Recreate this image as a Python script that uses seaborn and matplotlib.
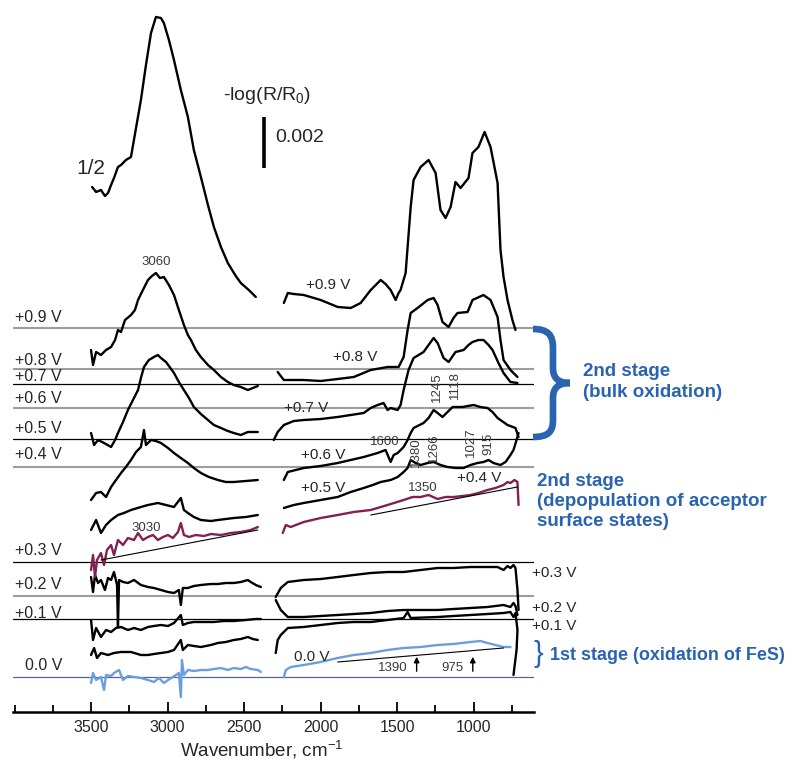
import matplotlib
matplotlib.use("Agg")
import matplotlib.pyplot as plt
import matplotlib.transforms as mtransforms
import seaborn as sns
from matplotlib.path import Path
from matplotlib.patches import PathPatch
from matplotlib.ticker import MultipleLocator

# unidades verticais de exibição: 51 unidades = 0.002 de -log(R/R0)
voltage_labels = ['+0.9 V', '+0.8 V', '+0.7 V', '+0.6 V', '+0.5 V',
                  '+0.4 V', '+0.3 V', '+0.2 V', '+0.1 V', '0.0 V']
baseline_levels = [384, 343, 328, 304, 273, 245, 150, 116, 93, 35]
baseline_colors = ['#9c9ca4', '#9c9ca4', 'black', '#9c9ca4', 'black',
                   '#9c9ca4', 'black', '#9c9ca4', 'black', '#56639c']
scale_bar = 51

# espectro superior (+0.9 V, escala 1/2)
top_left_wn = [3493, 3467, 3435, 3409, 3389, 3369, 3350, 3324, 3304, 3272, 3239, 3206, 3174, 3141, 3108, 3076,
               3043, 3024, 2991, 2958, 2913, 2867, 2828, 2782, 2736, 2697, 2651, 2606, 2554, 2521, 2469, 2423]
top_left_y = [525, 520, 522, 516, 519, 527, 534, 545, 547, 552, 555, 584, 612, 647, 679, 695,
              694, 689, 672, 652, 622, 595, 562, 535, 507, 485, 465, 449, 436, 429, 422, 415]
top_right_wn = [2240, 2214, 2175, 2110, 1999, 1888, 1803, 1738, 1672, 1607, 1575, 1542, 1509, 1490, 1477, 1444,
                1411, 1392, 1346, 1294, 1248, 1216, 1183, 1150, 1118, 1085, 1033, 1007, 968, 928, 889, 843,
                824, 804, 778, 746, 726]
top_right_y = [409, 419, 418, 417, 412, 405, 404, 409, 422, 432, 428, 422, 412, 419, 422, 439,
               505, 532, 545, 552, 539, 502, 494, 505, 530, 524, 534, 559, 565, 580, 565, 529,
               462, 435, 412, 392, 382]

# +0.9 V / +0.8 V
s2_left_wn = [3500, 3487, 3467, 3435, 3402, 3369, 3343, 3324, 3304, 3278, 3239, 3213, 3193, 3161, 3128, 3102,
              3076, 3050, 3024, 2991, 2958, 2926, 2893, 2867, 2847, 2815, 2782, 2736, 2697, 2651, 2606, 2567,
              2521, 2475, 2410]
s2_left_y = [362, 347, 360, 357, 362, 365, 372, 382, 380, 392, 397, 402, 412, 422, 432, 436,
             439, 434, 435, 427, 417, 402, 387, 377, 372, 362, 355, 347, 342, 335, 330, 327,
             325, 322, 326]
s2_right_wn = [2280, 2240, 2110, 1999, 1888, 1783, 1672, 1562, 1490, 1457, 1431, 1411, 1366, 1300, 1261, 1235,
               1203, 1163, 1131, 1105, 1039, 1007, 935, 889, 843, 824, 804, 759, 713]
s2_right_y = [340, 332, 332, 331, 333, 335, 342, 345, 345, 355, 382, 399, 404, 412, 414, 407,
              390, 385, 394, 399, 400, 412, 417, 412, 395, 372, 352, 342, 335]

# +0.8 V / +0.7 V
s3_left_wn = [3500, 3480, 3454, 3415, 3369, 3343, 3324, 3291, 3259, 3226, 3193, 3174, 3154, 3122, 3089, 3063,
              3043, 3010, 2958, 2926, 2893, 2860, 2828, 2782, 2736, 2697, 2651, 2606, 2567, 2521, 2475, 2410]
s3_left_y = [279, 267, 272, 269, 265, 272, 279, 290, 302, 312, 322, 334, 345, 352, 355, 357,
             354, 350, 339, 330, 322, 314, 305, 298, 292, 287, 284, 281, 279, 277, 280, 280]
s3_right_wn = [2306, 2280, 2240, 2175, 2110, 1999, 1888, 1803, 1718, 1672, 1627, 1588, 1562, 1542, 1496, 1477,
               1457, 1425, 1392, 1359, 1327, 1294, 1261, 1235, 1196, 1163, 1118, 1065, 1033, 1007, 968, 935,
               902, 876, 837, 804, 759, 713]
s3_right_y = [272, 280, 287, 291, 292, 293, 295, 297, 299, 304, 307, 309, 302, 304, 302, 307,
              322, 342, 354, 357, 360, 367, 374, 369, 354, 350, 360, 362, 367, 370, 372, 372,
              367, 362, 349, 339, 330, 329]

# +0.7 V / +0.6 V
s4_left_wn = [3500, 3467, 3435, 3402, 3369, 3337, 3304, 3272, 3239, 3206, 3174, 3154, 3141, 3108, 3076, 3043,
              2997, 2958, 2913, 2867, 2828, 2782, 2730, 2671, 2619, 2567, 2488, 2410]
s4_left_y = [212, 219, 220, 215, 225, 232, 239, 245, 252, 260, 265, 282, 267, 272, 271, 269,
             264, 259, 254, 249, 244, 239, 235, 232, 230, 230, 231, 232]
s4_right_wn = [2240, 2214, 2110, 1999, 1888, 1803, 1718, 1627, 1575, 1542, 1522, 1496, 1457, 1431, 1411, 1392,
               1327, 1294, 1261, 1235, 1203, 1170, 1137, 1072, 1000, 955, 909, 876, 843, 778, 726, 706]
s4_right_y = [232, 240, 244, 246, 249, 252, 255, 259, 262, 250, 257, 259, 265, 272, 279, 284,
              289, 294, 302, 299, 295, 300, 305, 305, 307, 305, 304, 300, 294, 287, 284, 275]

# +0.6 V / +0.5 V
s5_left_wn = [3500, 3467, 3435, 3402, 3369, 3324, 3285, 3239, 3174, 3128, 3063, 3010, 2958, 2913, 2893, 2867,
              2828, 2782, 2717, 2671, 2619, 2567, 2488, 2410]
s5_left_y = [182, 192, 179, 187, 192, 197, 199, 202, 205, 207, 209, 207, 205, 214, 202, 199,
             195, 192, 191, 192, 193, 194, 195, 197]
s5_right_wn = [2240, 2175, 2110, 1999, 1888, 1803, 1718, 1659, 1607, 1542, 1496, 1457, 1431, 1411, 1379, 1346,
               1300, 1261, 1216, 1170, 1118, 1065, 1020, 974, 935, 902, 870, 824, 791, 759, 739, 719, 706]
s5_right_y = [204, 207, 209, 212, 215, 220, 224, 227, 230, 232, 235, 240, 244, 252, 249, 247,
              249, 250, 247, 245, 244, 244, 247, 249, 250, 252, 249, 247, 250, 257, 262, 272, 279]

# +0.4 V (estados aceitadores de superfície)
s6_left_wn = [3500, 3487, 3474, 3461, 3435, 3415, 3396, 3369, 3350, 3324, 3291, 3259, 3219, 3193, 3161, 3128,
              3095, 3063, 3030, 2997, 2965, 2932, 2913, 2893, 2860, 2815, 2762, 2717, 2651, 2586, 2521, 2456, 2410]
s6_left_y = [142, 157, 135, 152, 159, 147, 162, 167, 157, 172, 167, 174, 172, 179, 172, 175,
             177, 172, 175, 177, 174, 180, 189, 177, 175, 177, 176, 178, 177, 179, 180, 182, 185]
s6_right_wn = [2247, 2227, 2195, 2110, 1999, 1888, 1783, 1672, 1562, 1457, 1398, 1346, 1294, 1235, 1183, 1131,
               1072, 1020, 968, 909, 857, 804, 778, 759, 733, 713, 706]
s6_right_y = [179, 187, 185, 190, 194, 197, 200, 202, 207, 212, 215, 215, 217, 213, 215, 215,
              216, 217, 219, 222, 224, 227, 230, 229, 232, 230, 207]
s6_fit_left_wn, s6_fit_left_y = [3435, 2410], [152, 182]
s6_fit_right_wn, s6_fit_right_y = [1672, 713], [197, 225]

# +0.3 V / +0.2 V
s7_left_wn = [3500, 3487, 3474, 3454, 3435, 3409, 3389, 3369, 3350, 3330, 3324, 3317, 3291, 3259, 3219, 3174,
              3128, 3089, 3043, 2997, 2958, 2926, 2913, 2900, 2867, 2828, 2782, 2717, 2671, 2619, 2567, 2521,
              2475, 2456, 2423, 2390]
s7_left_y = [135, 120, 137, 129, 132, 122, 134, 132, 140, 127, 85, 132, 130, 129, 132, 127,
             125, 124, 122, 120, 119, 122, 107, 124, 124, 126, 127, 128, 128, 129, 129, 130,
             132, 130, 127, 125]
s7_right_wn = [2293, 2260, 2214, 2110, 1999, 1888, 1783, 1672, 1562, 1457, 1346, 1235, 1131, 1020, 909, 843,
               804, 778, 759, 739, 726, 713, 706]
s7_right_y = [115, 124, 130, 132, 133, 135, 137, 139, 140, 140, 142, 144, 144, 145, 145, 145,
              142, 146, 144, 147, 144, 122, 102]

# +0.2 V / +0.1 V
s8_left_wn = [3500, 3487, 3467, 3435, 3402, 3369, 3337, 3304, 3259, 3219, 3174, 3128, 3089, 3043, 2997, 2958,
              2913, 2900, 2867, 2828, 2762, 2697, 2632, 2567, 2488, 2423, 2390]
s8_left_y = [92, 72, 84, 75, 82, 80, 84, 85, 82, 84, 82, 85, 86, 87, 86, 89,
             97, 87, 89, 90, 90, 90, 91, 91, 92, 93, 93]
s8_right_wn = [2293, 2260, 2214, 2110, 1999, 1888, 1783, 1672, 1562, 1457, 1346, 1235, 1131, 1020, 909, 804,
               759, 739, 726, 713]
s8_right_y = [112, 102, 95, 95, 96, 97, 98, 99, 101, 102, 102, 102, 103, 104, 105, 107,
              105, 109, 106, 97]

# +0.1 V
s9_left_wn = [3500, 3480, 3461, 3435, 3389, 3350, 3304, 3239, 3174, 3128, 3089, 3043, 2997, 2958, 2913, 2900,
              2867, 2828, 2782, 2717, 2671, 2619, 2567, 2521, 2475, 2443, 2410]
s9_left_y = [57, 64, 54, 59, 57, 59, 60, 60, 57, 57, 58, 59, 60, 62, 72, 62,
             67, 66, 65, 67, 69, 70, 72, 73, 75, 73, 72]
s9_right_wn = [2293, 2280, 2260, 2214, 2110, 1999, 1888, 1783, 1672, 1562, 1457, 1431, 1411, 1235, 1131, 1020,
               909, 804, 759, 739, 726, 713, 719, 739]
s9_right_y = [59, 72, 77, 84, 85, 87, 89, 90, 90, 92, 94, 100, 94, 95, 96, 97,
              98, 99, 100, 95, 99, 82, 62, 37]

# 0.0 V (FeS)
s10_left_wn = [3500, 3487, 3467, 3435, 3415, 3402, 3369, 3350, 3317, 3291, 3259, 3219, 3174, 3128, 3089, 3056,
               3024, 2997, 2965, 2926, 2913, 2906, 2893, 2867, 2828, 2782, 2736, 2697, 2651, 2606, 2567, 2521,
               2488, 2456, 2410, 2390]
s10_left_y = [29, 39, 32, 35, 22, 37, 36, 39, 42, 32, 36, 35, 34, 32, 30, 34,
              29, 32, 35, 39, 15, 52, 37, 42, 41, 42, 42, 43, 44, 42, 44, 43,
              45, 43, 42, 40]
s10_right_wn = [2240, 2227, 2195, 2110, 1999, 1888, 1783, 1672, 1562, 1457, 1346, 1235, 1131, 1020, 955, 909,
                857, 804, 759]
s10_right_y = [35, 42, 45, 47, 50, 54, 57, 59, 62, 64, 65, 67, 68, 70, 71, 69,
               67, 65, 65]
s10_fit_wn, s10_fit_y = [1888, 804], [50, 64]

BLUE = '#2a64b0'
MAROON = '#822052'
LIGHTBLUE = '#6a9fdc'

sns.set_style("white")
plt.rcParams['font.family'] = ['Liberation Sans', 'DejaVu Sans']
plt.rcParams['mathtext.fontset'] = 'custom'
plt.rcParams['mathtext.rm'] = 'Liberation Sans'
plt.rcParams['mathtext.it'] = 'Liberation Sans:italic'

fig = plt.figure(figsize=(7.93, 7.6), dpi=100)
ax = fig.add_axes([13 / 793, 48 / 760, 521 / 793, 712 / 760])
ax.set_xlim(4010, 605)
ax.set_ylim(0, 712)


def draw(wn, y, color='black', lw=1.7):
    sns.lineplot(x=wn, y=y, sort=False, estimator=None, color=color, lw=lw, ax=ax, zorder=3)


# linhas de base e rótulos à esquerda
label_gap = [6, 4, 3, 5, 6, 8, 7, 7, 1, 7]
for lab, lvl, col, gap in zip(voltage_labels, baseline_levels, baseline_colors, label_gap):
    gray = col.startswith('#9')
    ax.axhline(lvl, color=col, lw=1.5 if gray else 0.9, zorder=1)
    x0 = 0.023 if lab == '0.0 V' else 0.004
    ax.text(x0, lvl + gap, lab, transform=ax.get_yaxis_transform(), ha='left', va='baseline', fontsize=11.5)

# espectros
black_pairs = [(top_left_wn, top_left_y), (top_right_wn, top_right_y),
               (s2_left_wn, s2_left_y), (s2_right_wn, s2_right_y),
               (s3_left_wn, s3_left_y), (s3_right_wn, s3_right_y),
               (s4_left_wn, s4_left_y), (s4_right_wn, s4_right_y),
               (s5_left_wn, s5_left_y), (s5_right_wn, s5_right_y),
               (s7_left_wn, s7_left_y), (s7_right_wn, s7_right_y),
               (s8_left_wn, s8_left_y), (s8_right_wn, s8_right_y),
               (s9_left_wn, s9_left_y), (s9_right_wn, s9_right_y)]
for wn, y in black_pairs:
    draw(wn, y)
draw(s6_left_wn, s6_left_y, MAROON)
draw(s6_right_wn, s6_right_y, MAROON)
draw(s6_fit_left_wn, s6_fit_left_y, 'black', 0.8)
draw(s6_fit_right_wn, s6_fit_right_y, 'black', 0.8)
draw(s10_left_wn, s10_left_y, LIGHTBLUE)
draw(s10_right_wn, s10_right_y, LIGHTBLUE)
draw(s10_fit_wn, s10_fit_y, 'black', 0.8)

# rótulos internos dos potenciais
inner = [('+0.9 V', 2097, 427), ('+0.8 V', 1920, 355), ('+0.7 V', 2240, 304), ('+0.6 V', 2129, 257),
         ('+0.5 V', 2129, 224), ('+0.4 V', 1105, 234), ('0.0 V', 2175, 55),
         ('+0.3 V', 615, 139), ('+0.2 V', 615, 104), ('+0.1 V', 615, 86)]
for lab, x, y in inner:
    ax.text(x, y, lab, ha='left', va='center', fontsize=11)

# números de onda das bandas
small = dict(fontsize=9.5, color='#3a3a3a')
ax.text(3076, 450, '3060', ha='center', va='center', **small)
ax.text(3141, 184, '3030', ha='center', va='center', **small)
ax.text(1581, 270, '1600', ha='center', va='center', **small)
ax.text(1333, 224, '1350', ha='center', va='center', **small)
for lab, x, y in [('1245', 1242, 325), ('1118', 1124, 327), ('1380', 1379, 260),
                  ('1266', 1261, 264), ('1027', 1020, 270), ('915', 902, 268)]:
    ax.text(x, y, lab, ha='center', va='center', rotation=90, **small)

for x, lab in [(1372, '1390'), (1005, '975')]:
    ax.annotate('', xy=(x, 58), xytext=(x, 38),
                arrowprops=dict(arrowstyle='-|>', color='black', lw=1, mutation_scale=8))
    ax.text(x + 60, 44, lab, ha='right', va='center', **small)

# escala
ax.plot([2371, 2371], [544, 544 + scale_bar], color='black', lw=2.6, solid_capstyle='butt')
ax.text(2293, 574, '0.002', ha='left', va='center', fontsize=14)
ax.text(2638, 617, '-log(R/R$_0$)', ha='left', va='center', fontsize=14)
ax.text(3598, 544, '1/2', ha='left', va='center', fontsize=15)

# eixo
ax.set_xticks([3500, 3000, 2500, 2000, 1500, 1000])
ax.xaxis.set_minor_locator(MultipleLocator(250))
ax.tick_params(axis='x', which='both', bottom=True, top=False, direction='in', color='black')
ax.tick_params(axis='x', which='major', length=7, width=1.3, labelsize=11.5, pad=6)
ax.tick_params(axis='x', which='minor', length=5, width=1.3)
ax.yaxis.set_visible(False)
for side in ['left', 'top', 'right']:
    ax.spines[side].set_visible(False)
ax.spines['bottom'].set_linewidth(1.8)
ax.spines['bottom'].set_color('black')
ax.set_xlabel('Wavenumber, cm$^{-1}$', fontsize=13.5)
ax.xaxis.set_label_coords(0.478, -0.038)

# chave e anotações em azul
px = mtransforms.Affine2D().scale(1 / 793, -1 / 760).translate(0, 1) + fig.transFigure
verts = [(533, 329), (548, 329), (553, 335), (553, 348), (553, 368),
         (553, 378), (558, 383), (570, 383),
         (558, 383), (553, 388), (553, 398), (553, 420),
         (553, 432), (548, 437), (533, 437)]
codes = [Path.MOVETO, Path.CURVE4, Path.CURVE4, Path.CURVE4, Path.LINETO,
         Path.CURVE4, Path.CURVE4, Path.CURVE4,
         Path.CURVE4, Path.CURVE4, Path.CURVE4, Path.LINETO,
         Path.CURVE4, Path.CURVE4, Path.CURVE4]
fig.add_artist(PathPatch(Path(verts, codes), fill=False, lw=4.8, ec=BLUE, transform=px, capstyle='butt'))

bold = dict(fontsize=13.5, fontweight='bold', color=BLUE, va='center', ha='left')
fig.text(583 / 793, 1 - 371 / 760, '2nd stage', **bold)
fig.text(583 / 793, 1 - 392 / 760, '(bulk oxidation)', **bold)
fig.text(537 / 793, 1 - 481 / 760, '2nd stage', **bold)
fig.text(537 / 793, 1 - 501 / 760, '(depopulation of acceptor', **bold)
fig.text(537 / 793, 1 - 521 / 760, 'surface states)', **bold)
fig.text(538 / 793, 1 - 654 / 760, '}', fontsize=21, color=BLUE, va='center', ha='center')
fig.text(550 / 793, 1 - 655 / 760, '1st stage (oxidation of FeS)', **dict(bold, fontsize=13))

fig.savefig('out.png', dpi=100)
